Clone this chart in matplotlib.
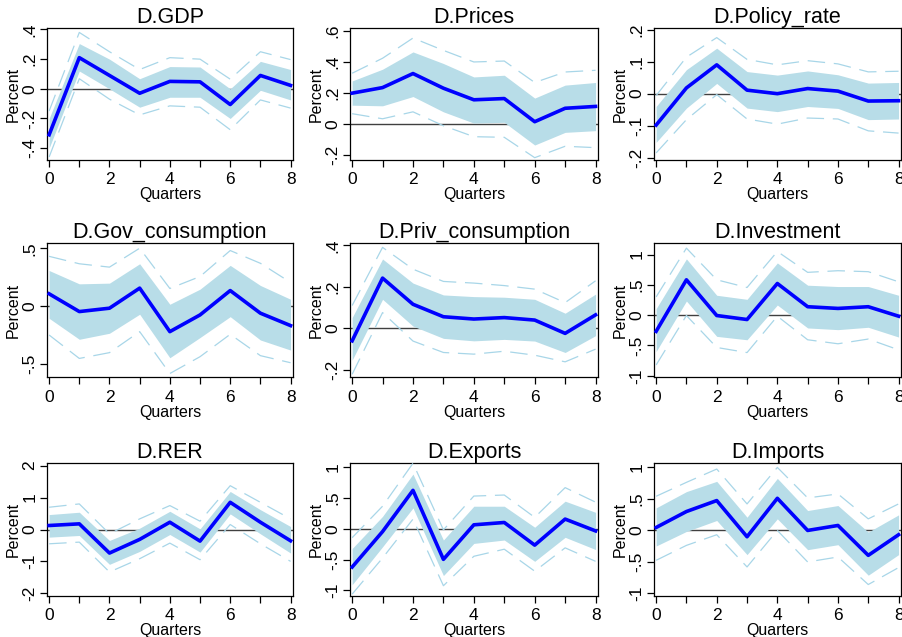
import numpy as np
import matplotlib
matplotlib.use('Agg')
import matplotlib.pyplot as plt
from matplotlib.ticker import FuncFormatter, MultipleLocator

plt.rcParams['font.family'] = ['Liberation Sans', 'DejaVu Sans']

quarters = [0, 1, 2, 3, 4, 5, 6, 7, 8]

# impulse responses, 68% band (lo/hi) and 95% band (lo2/hi2)
gdp_irf = [-0.31, 0.21, 0.09, -0.03, 0.05, 0.047, -0.106, 0.09, 0.023]
gdp_lo = [-0.40, 0.12, 0.00, -0.124, -0.057, -0.057, -0.20, -0.01, -0.075]
gdp_hi = [-0.20, 0.305, 0.20, 0.068, 0.15, 0.147, 0.00, 0.185, 0.13]
gdp_lo2 = [-0.46, 0.068, -0.07, -0.176, -0.115, -0.124, -0.276, -0.075, -0.13]
gdp_hi2 = [-0.15, 0.38, 0.25, 0.13, 0.21, 0.20, 0.065, 0.25, 0.197]

prices_irf = [0.198, 0.234, 0.325, 0.23, 0.155, 0.163, 0.013, 0.10, 0.112]
prices_lo = [0.12, 0.116, 0.176, 0.077, 0.004, 0.009, -0.138, -0.056, -0.045]
prices_hi = [0.277, 0.353, 0.465, 0.39, 0.303, 0.314, 0.166, 0.25, 0.267]
prices_lo2 = [0.065, 0.032, 0.077, -0.013, -0.084, -0.088, -0.22, -0.146, -0.155]
prices_hi2 = [0.327, 0.424, 0.555, 0.475, 0.40, 0.406, 0.267, 0.335, 0.346]

policy_irf = [-0.098, 0.018, 0.09, 0.011, 0.0, 0.016, 0.008, -0.023, -0.022]
policy_lo = [-0.152, -0.045, 0.032, -0.045, -0.056, -0.04, -0.046, -0.081, -0.079]
policy_hi = [-0.04, 0.075, 0.142, 0.069, 0.058, 0.071, 0.059, 0.033, 0.035]
policy_lo2 = [-0.185, -0.081, -0.003, -0.079, -0.095, -0.076, -0.079, -0.116, -0.123]
policy_hi2 = [-0.006, 0.114, 0.175, 0.107, 0.09, 0.103, 0.093, 0.068, 0.07]

gov_irf = [0.107, -0.046, -0.017, 0.156, -0.219, -0.075, 0.135, -0.06, -0.167]
gov_lo = [-0.104, -0.285, -0.233, -0.069, -0.444, -0.27, -0.09, -0.291, -0.378]
gov_hi = [0.308, 0.193, 0.199, 0.366, 0.017, 0.147, 0.352, 0.179, 0.06]
gov_lo2 = [-0.248, -0.45, -0.40, -0.219, -0.58, -0.435, -0.242, -0.426, -0.487]
gov_hi2 = [0.43, 0.366, 0.337, 0.50, 0.153, 0.256, 0.48, 0.37, 0.205]

priv_irf = [-0.06, 0.242, 0.116, 0.056, 0.045, 0.052, 0.04, -0.024, 0.065]
priv_lo = [-0.153, 0.14, 0.011, -0.048, -0.06, -0.053, -0.061, -0.116, -0.035]
priv_hi = [0.052, 0.334, 0.218, 0.161, 0.153, 0.15, 0.14, 0.073, 0.165]
priv_lo2 = [-0.221, 0.076, -0.061, -0.116, -0.124, -0.11, -0.129, -0.161, -0.10]
priv_hi2 = [0.11, 0.39, 0.285, 0.226, 0.218, 0.206, 0.189, 0.124, 0.229]

inv_irf = [-0.267, 0.583, -0.006, -0.072, 0.522, 0.139, 0.111, 0.139, -0.017]
inv_lo = [-0.60, 0.233, -0.35, -0.406, 0.167, -0.211, -0.239, -0.20, -0.361]
inv_hi = [0.106, 0.928, 0.328, 0.261, 0.861, 0.494, 0.472, 0.472, 0.328]
inv_lo2 = [-0.822, -0.006, -0.533, -0.617, -0.017, -0.406, -0.472, -0.394, -0.572]
inv_hi2 = [0.30, 1.105, 0.583, 0.456, 1.05, 0.706, 0.733, 0.717, 0.55]

rer_irf = [0.125, 0.177, -0.737, -0.31, 0.228, -0.363, 0.85, 0.228, -0.353]
rer_lo = [-0.239, -0.187, -1.09, -0.685, -0.156, -0.706, 0.488, -0.135, -0.737]
rer_hi = [0.467, 0.54, -0.343, 0.042, 0.57, 0.02, 1.19, 0.62, 0.093]
rer_lo2 = [-0.447, -0.395, -1.33, -0.914, -0.426, -0.945, 0.156, -0.447, -0.997]
rer_hi2 = [0.696, 0.80, -0.135, 0.332, 0.748, 0.26, 1.37, 0.85, 0.332]

exp_irf = [-0.62, -0.044, 0.626, -0.495, 0.066, 0.104, -0.264, 0.159, -0.033]
exp_lo = [-0.907, -0.291, 0.34, -0.758, -0.236, -0.181, -0.527, -0.137, -0.335]
exp_hi = [-0.319, 0.203, 0.89, -0.181, 0.368, 0.368, 0.027, 0.45, 0.269]
exp_lo2 = [-1.06, -0.473, 0.159, -0.923, -0.445, -0.33, -0.687, -0.308, -0.527]
exp_hi2 = [-0.143, 0.368, 1.066, -0.016, 0.533, 0.55, 0.187, 0.67, 0.434]

imp_irf = [0.047, 0.30, 0.474, -0.10, 0.51, 0.0, 0.079, -0.395, -0.068]
imp_lo = [-0.247, -0.016, 0.158, -0.384, 0.184, -0.305, -0.226, -0.71, -0.384]
imp_hi = [0.358, 0.616, 0.779, 0.21, 0.826, 0.316, 0.395, -0.026, 0.247]
imp_lo2 = [-0.474, -0.237, -0.068, -0.579, 0.0, -0.50, -0.421, -0.858, -0.589]
imp_hi2 = [0.542, 0.763, 0.974, 0.421, 1.0, 0.516, 0.579, 0.184, 0.421]

titles = ['D.GDP', 'D.Prices', 'D.Policy_rate',
          'D.Gov_consumption', 'D.Priv_consumption', 'D.Investment',
          'D.RER', 'D.Exports', 'D.Imports']

series = [
    (gdp_irf, gdp_lo, gdp_hi, gdp_lo2, gdp_hi2),
    (prices_irf, prices_lo, prices_hi, prices_lo2, prices_hi2),
    (policy_irf, policy_lo, policy_hi, policy_lo2, policy_hi2),
    (gov_irf, gov_lo, gov_hi, gov_lo2, gov_hi2),
    (priv_irf, priv_lo, priv_hi, priv_lo2, priv_hi2),
    (inv_irf, inv_lo, inv_hi, inv_lo2, inv_hi2),
    (rer_irf, rer_lo, rer_hi, rer_lo2, rer_hi2),
    (exp_irf, exp_lo, exp_hi, exp_lo2, exp_hi2),
    (imp_irf, imp_lo, imp_hi, imp_lo2, imp_hi2),
]

yticks = [
    [-0.4, -0.2, 0, 0.2, 0.4],
    [-0.2, 0, 0.2, 0.4, 0.6],
    [-0.2, -0.1, 0, 0.1, 0.2],
    [-0.5, 0, 0.5],
    [-0.2, 0, 0.2, 0.4],
    [-1, -0.5, 0, 0.5, 1],
    [-2, -1, 0, 1, 2],
    [-1, -0.5, 0, 0.5, 1],
    [-1, -0.5, 0, 0.5, 1],
]
ylims = [(-0.48, 0.41), (-0.235, 0.62), (-0.207, 0.205),
         (-0.61, 0.545), (-0.234, 0.411), (-1.02, 1.19),
         (-2.08, 2.08), (-1.09, 1.07), (-1.04, 1.07)]

# axes boxes in pixels: left, top, right, bottom
W, H = 903, 637
col_x = [(47, 293), (350, 598), (654, 901)]
row_y = [(28, 160), (243, 377), (463, 596)]


def stata_fmt(v, pos):
    if abs(v) < 1e-9:
        return '0'
    s = ('%g' % v)
    s = s.replace('0.', '.')
    return s


band_col = '#b8dde8'
dash_col = '#a8d6e8'

fig = plt.figure(figsize=(W / 100, H / 100), dpi=100)

for i in range(9):
    r, c = divmod(i, 3)
    x0, x1 = col_x[c]
    y0, y1 = row_y[r]
    ax = fig.add_axes([x0 / W, 1 - y1 / H, (x1 - x0) / W, (y1 - y0) / H])
    irf, lo, hi, lo2, hi2 = series[i]

    ax.axhline(0, color='#404040', lw=1.0, zorder=1)
    ax.fill_between(quarters, lo, hi, color=band_col, lw=0, zorder=2)
    ax.plot(quarters, lo2, color=dash_col, lw=0.9, ls=(0, (14, 7)), zorder=3)
    ax.plot(quarters, hi2, color=dash_col, lw=0.9, ls=(0, (14, 7)), zorder=3)
    ax.plot(quarters, irf, color='#0000ff', lw=2.6, zorder=4)

    ax.set_xlim(-0.07, 8.08)
    ax.set_ylim(*ylims[i])
    ax.set_xticks([0, 2, 4, 6, 8])
    ax.xaxis.set_minor_locator(MultipleLocator(1))
    ax.set_yticks(yticks[i])
    ax.yaxis.set_major_formatter(FuncFormatter(stata_fmt))
    ax.tick_params(axis='both', which='major', direction='out', length=5,
                   width=0.9, labelsize=12.5, pad=2)
    ax.tick_params(axis='x', which='major', pad=4)
    ax.tick_params(axis='x', which='minor', direction='out', length=5, width=0.9)
    for lab in ax.get_yticklabels():
        lab.set_rotation(90)
        lab.set_va('center')
    for sp in ax.spines.values():
        sp.set_linewidth(0.9)
    ax.set_title(titles[i], fontsize=15.5, pad=2)
    ax.set_xlabel('Quarters', fontsize=11.5, labelpad=0)
    ax.set_ylabel('Percent', fontsize=11.5, labelpad=1)

fig.savefig('out.png', dpi=100)
